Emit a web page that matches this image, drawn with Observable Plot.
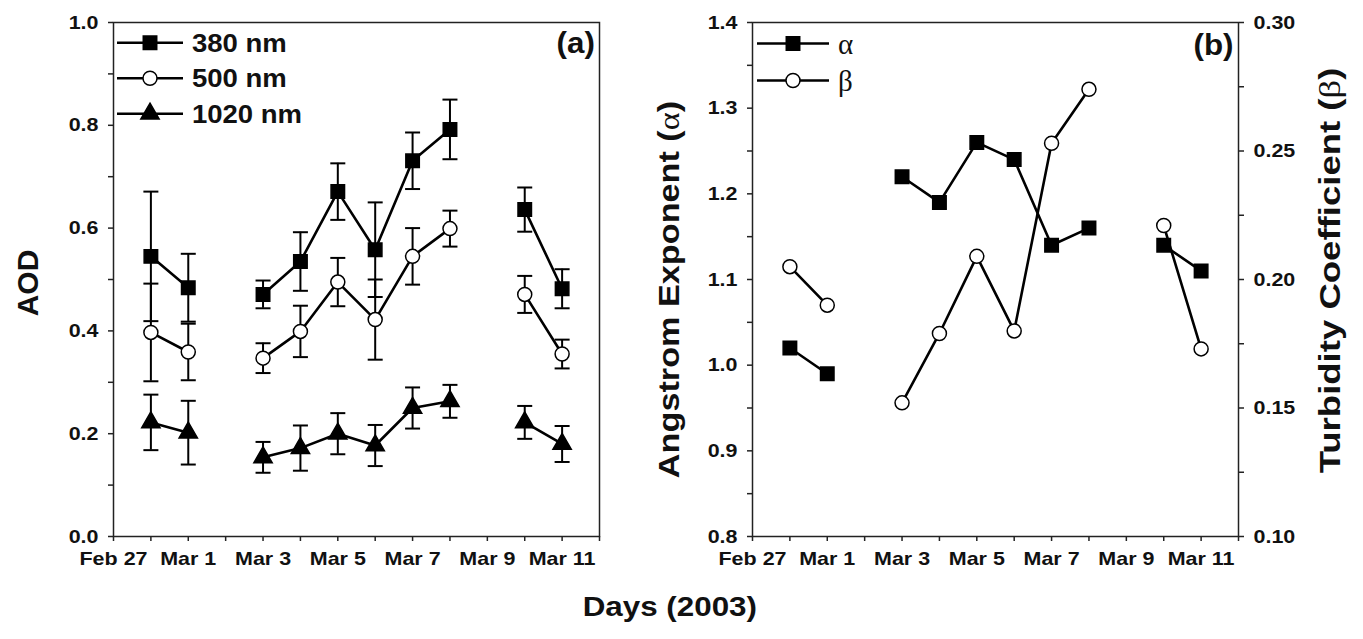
<!DOCTYPE html>
<html><head><meta charset="utf-8">
<script src="https://cdn.jsdelivr.net/npm/d3@7"></script>
<script src="https://cdn.jsdelivr.net/npm/@observablehq/plot@0.6"></script>
<style>
body{margin:0;background:#fff;}
#wrap{position:relative;width:1363px;height:639px;font-family:"Liberation Sans",Arial,sans-serif;font-weight:bold;color:#111;overflow:hidden;}
.abs{position:absolute;}
.lab{position:absolute;white-space:nowrap;font-weight:bold;color:#111;transform-origin:center center;}
.greek{font-family:"Liberation Serif","DejaVu Serif",serif;font-weight:normal;}
</style></head><body><div id="wrap"></div>
<script>
// ---------- data ----------
const days = ["2003-02-28","2003-03-01","2003-03-03","2003-03-04","2003-03-05","2003-03-06","2003-03-07","2003-03-08","2003-03-10","2003-03-11"];
const segment = [0,0,1,1,1,1,1,1,2,2];
const aod380  = [0.545,0.484,0.471,0.535,0.671,0.558,0.731,0.792,0.636,0.482];
const err380  = [0.126,0.066,0.027,0.057,0.055,0.092,0.055,0.058,0.043,0.038];
const aod500  = [0.397,0.359,0.347,0.399,0.495,0.422,0.545,0.599,0.471,0.355];
const err500  = [0.095,0.055,0.029,0.050,0.047,0.078,0.055,0.035,0.036,0.028];
const aod1020 = [0.222,0.202,0.154,0.172,0.200,0.177,0.250,0.263,0.222,0.180];
const err1020 = [0.054,0.062,0.030,0.044,0.040,0.040,0.040,0.032,0.032,0.035];
const alpha = [1.02,0.99,1.22,1.19,1.26,1.24,1.14,1.16,1.14,1.11];
const beta  = [0.205,0.190,0.152,0.179,0.209,0.180,0.253,0.274,0.221,0.173];
const xTickDates  = ["2003-02-27","2003-03-01","2003-03-03","2003-03-05","2003-03-07","2003-03-09","2003-03-11"];
const xTickLabels = ["Feb 27","Mar 1","Mar 3","Mar 5","Mar 7","Mar 9","Mar 11"];
const xDomain = ["2003-02-27","2003-03-12"];
const aodTicks = [0,0.2,0.4,0.6,0.8,1.0];
const aodMinor = [0.1,0.3,0.5,0.7,0.9];
const alphaTicks = [0.8,0.9,1.0,1.1,1.2,1.3,1.4];
const alphaMinor = [0.85,0.95,1.05,1.15,1.25,1.35];
const betaTicks = [0.10,0.15,0.20,0.25,0.30];
const betaMinor = [0.125,0.175,0.225,0.275];
const aodSeries = [
  {name:"380 nm", values:aod380, err:err380, symbol:"square", fill:"black", r:7.6},
  {name:"500 nm", values:aod500, err:err500, symbol:"circle", fill:"white", r:7},
  {name:"1020 nm", values:aod1020, err:err1020, symbol:"triangle", fill:"black", r:6.8}
];

// ---------- helpers ----------
const wrap = document.getElementById("wrap");
const STRETCH = 1.13;
const dates = days.map(d => new Date(d));
const allDays = d3.utcDay.range(new Date(xDomain[0]), d3.utcDay.offset(new Date(xDomain[1]), 1));
const labelMap = new Map(xTickDates.map((d,i)=>[+new Date(d), xTickLabels[i]]));
const capSymbol = {draw(ctx, size){ const w = Math.sqrt(size)/2; ctx.moveTo(-w,0); ctx.lineTo(w,0); }};
const capR = Math.sqrt(225/Math.PI);
const font = {fontFamily:"Liberation Sans, Arial, sans-serif", fontSize:"19px", fontWeight:"bold", color:"#111", background:"transparent", overflow:"visible"};
const xAxes = () => [
  Plot.axisX({ticks: allDays, tickSize: 5, tickFormat: d => labelMap.get(+d) ?? "", tickPadding: 10, stroke:"#222", strokeWidth:1.5, label:null})
];
function place(el, left, top){ el.classList.add("abs"); el.style.left = left+"px"; el.style.top = top+"px"; wrap.appendChild(el); }
function stretchTicks(svg){
  d3.select(svg).selectAll('g[aria-label$="tick label"] text').attr("transform", function(){
    return (this.getAttribute("transform") || "") + ` scale(${STRETCH},1)`;
  });
}

// ---------- panel (a) ----------
const long = aodSeries.flatMap(s => dates.map((d,i)=>({date:d, seg:segment[i], key:s.name, v:s.values[i], e:s.err[i]})));
const marksA = [
  Plot.ruleX(long, {x:"date", y1:d=>d.v-d.e, y2:d=>d.v+d.e, stroke:"black", strokeWidth:2}),
  Plot.dot(long, {x:"date", y:d=>d.v+d.e, symbol:capSymbol, r:capR, stroke:"black", strokeWidth:2, fill:"none"}),
  Plot.dot(long, {x:"date", y:d=>d.v-d.e, symbol:capSymbol, r:capR, stroke:"black", strokeWidth:2, fill:"none"}),
  Plot.line(long, {x:"date", y:"v", z:d=>d.key+"-"+d.seg, stroke:"black", strokeWidth:2.6}),
  ...aodSeries.map(s => Plot.dot(long.filter(d=>d.key===s.name), {x:"date", y:"v", symbol:s.symbol, r:s.r, fill:s.fill, stroke:"black", strokeWidth:1.5})),
  Plot.frame({stroke:"#222", strokeWidth:1.5}),
  Plot.axisY({ticks: aodTicks, tickFormat: d3.format(".1f"), tickSize:5, tickPadding:10, stroke:"#222", strokeWidth:1.5, label:null}),
  Plot.axisY({ticks: aodMinor, tickFormat: () => "", tickSize:5, stroke:"#222", strokeWidth:1.5, label:null}),
  ...xAxes()
];
const plotA = Plot.plot({
  width: 620, height: 600, marginLeft: 113, marginRight: 21, marginTop: 22, marginBottom: 64,
  x: {type:"utc", domain: xDomain.map(d=>new Date(d))},
  y: {domain:[0,1]},
  style: font,
  marks: marksA
});
stretchTicks(plotA);
place(plotA, 0, 0);

// ---------- panel (b) ----------
const rowsB = dates.map((d,i)=>({date:d, seg:segment[i], a:alpha[i], b:beta[i]}));
const plotB = Plot.plot({
  width: 640, height: 600, marginLeft: 112, marginRight: 42, marginTop: 22, marginBottom: 64,
  x: {type:"utc", domain: xDomain.map(d=>new Date(d))},
  y: {domain:[0.8,1.4]},
  style: font,
  marks: [
    Plot.line(rowsB, {x:"date", y:"a", z:"seg", stroke:"black", strokeWidth:2.6}),
    Plot.dot(rowsB, {x:"date", y:"a", symbol:"square", r:7.6, fill:"black", stroke:"black", strokeWidth:1.5}),
    Plot.frame({stroke:"#222", strokeWidth:1.5}),
    Plot.axisY({ticks: alphaTicks, tickFormat: d3.format(".1f"), tickSize:5, tickPadding:10, stroke:"#222", strokeWidth:1.5, label:null}),
    Plot.axisY({ticks: alphaMinor, tickFormat: () => "", tickSize:5, stroke:"#222", strokeWidth:1.5, label:null}),
    ...xAxes()
  ]
});
stretchTicks(plotB);
place(plotB, 640, 0);

const plotB2 = Plot.plot({
  width: 640, height: 600, marginLeft: 112, marginRight: 42, marginTop: 22, marginBottom: 64,
  x: {type:"utc", domain: xDomain.map(d=>new Date(d)), axis:null},
  y: {domain:[0.10,0.30], axis:null},
  style: font,
  marks: [
    Plot.line(rowsB, {x:"date", y:"b", z:"seg", stroke:"black", strokeWidth:2.6}),
    Plot.dot(rowsB, {x:"date", y:"b", symbol:"circle", r:7, fill:"white", stroke:"black", strokeWidth:1.5}),
    Plot.axisY({anchor:"right", ticks: betaTicks, tickFormat: d3.format(".2f"), tickSize:5, tickPadding:10, stroke:"#222", strokeWidth:1.5, label:null}),
    Plot.axisY({anchor:"right", ticks: betaMinor, tickFormat: () => "", tickSize:5, stroke:"#222", strokeWidth:1.5, label:null})
  ]
});
stretchTicks(plotB2);
place(plotB2, 640, 0);

// ---------- legends ----------
function legend(items, left, top, rowH, lineW, fontSize){
  const svg = d3.create("svg").attr("width", 260).attr("height", rowH*items.length+10).style("overflow","visible");
  items.forEach((it,i)=>{
    const y = rowH*i + rowH/2;
    const g = svg.append("g");
    g.append("line").attr("x1",0).attr("x2",lineW).attr("y1",y).attr("y2",y).attr("stroke","black").attr("stroke-width",2.6);
    const sym = d3.symbol().type({square:d3.symbolSquare, circle:d3.symbolCircle, triangle:d3.symbolTriangle}[it.symbol]).size(Math.PI*it.r*it.r);
    g.append("path").attr("d", sym()).attr("transform",`translate(${lineW/2},${y})`).attr("fill",it.fill).attr("stroke","black").attr("stroke-width",1.5);
    g.append("text").attr("transform", `translate(${lineW+9},${y}) scale(${it.greek?1:1.1},1)`).attr("dy","0.36em")
      .attr("font-family", it.greek ? "Liberation Serif, DejaVu Serif, serif" : "Liberation Sans, Arial, sans-serif")
      .attr("font-weight", it.greek ? "normal" : "bold").attr("font-size", it.greek ? fontSize+4 : fontSize).attr("fill","#111").text(it.name);
  });
  const el = svg.node(); place(el, left, top - rowH/2);
}
legend(aodSeries, 117, 43, 35.5, 66, 25);
legend([{name:"α", symbol:"square", fill:"black", r:7.6, greek:true},{name:"β", symbol:"circle", fill:"white", r:7, greek:true}], 757, 43, 37, 72, 25);

// ---------- text labels ----------
function label(html, cx, cy, size, rot, sx){
  const d = document.createElement("div"); d.className = "lab"; d.innerHTML = html;
  d.style.fontSize = size+"px"; wrap.appendChild(d);
  const w = d.offsetWidth, h = d.offsetHeight;
  d.style.left = (cx - w/2)+"px"; d.style.top = (cy - h/2)+"px";
  d.style.transform = `${rot ? `rotate(${rot}deg) ` : ""}scaleX(${sx || 1})`;
}
label("(a)", 575, 43, 29, 0, 1.08);
label("(b)", 1213, 45, 29, 0, 1.08);
label("AOD", 28, 283, 30, -90, 1.0);
label('Angstrom Exponent (<span class="greek">α</span>)', 670, 289, 29, -90, 1.18);
label('Turbidity Coefficient (<span class="greek">β</span>)', 1331, 270, 29, -90, 1.26);
label("Days (2003)", 670, 607, 28, 0, 1.12);
</script></body></html>
